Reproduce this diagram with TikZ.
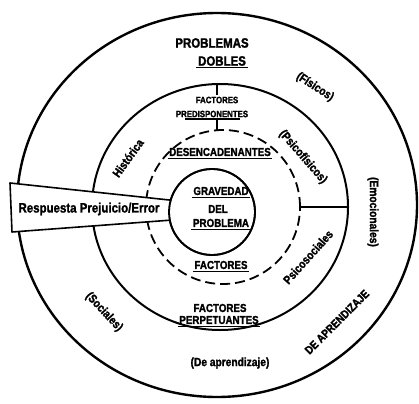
\documentclass[tikz,border=0pt]{standalone}
\usepackage{fontspec}
\setmainfont{Liberation Sans}[FakeStretch=0.85, BoldFont={Liberation Sans Bold}, BoldFeatures={FakeStretch=0.85, FakeBold=1.6}]
\usetikzlibrary{shapes.geometric}

\tikzset{
  fs/.style={font=\bfseries\fontsize{#1}{#1}\selectfont, inner sep=1.5pt},
  ring/.style={draw, inner sep=0pt, outer sep=0pt},
  ul/.style={append after command={
      ([yshift=-0.3pt]\tikzlastnode.south west) edge[draw, line width=1.1pt]
      ([yshift=-0.3pt]\tikzlastnode.south east)}},
  conn/.style={line width=1.6pt},
}

\begin{document}
\begin{tikzpicture}[x=1pt, y=-1pt]
\useasboundingbox[fill=white] (0,0) rectangle (419,403);

% concentric rings
\node[ring, ellipse, line width=2.4pt, minimum width=400, minimum height=384] (outer) at (217,205) {};
\node[ring, ellipse, line width=2pt, minimum width=256, minimum height=246] (midring) at (220,207) {};
\node[ring, circle, line width=1.8pt, dash pattern=on 10pt off 5pt, minimum size=154] (dashring) at (223,207) {};
\node[ring, circle, line width=1.8pt, minimum size=86] (inner) at (212,212) {};

% wedge carrying the response label
\coordinate (bTL) at (10,183);
\coordinate (bBL) at (12,232);
\fill[white] (bTL) -- (inner.164) -- (inner.191) -- (bBL) -- cycle;
\draw[conn, line join=round] (inner.164) -- (bTL) -- (bBL) -- (inner.191);
\node[ring, circle, line width=1.8pt, minimum size=86] at (inner) {};

% divider on the right
\draw[line width=1.8pt] (dashring.east) -- (midring.east);

% labels
\node[fs=13.5] (probl) at (212,43) {PROBLEMAS};
\node[fs=13.5, ul] (dobles) at (222,61) {DOBLES};
\node[fs=9.2] (factA) at (217,100) {FACTORES};
\node[fs=9.2] (predis) at (212,114) {PREDISPONENTES};
\node[fs=11.5, ul] (desenc) at (220,152) {DESENCADENANTES};
\node[fs=11.5, ul] (grav) at (221,191) {GRAVEDAD};
\node[fs=11.5] (del) at (218,209) {DEL};
\node[fs=11.5, ul] (probl2) at (221,223) {PROBLEMA};
\node[fs=11.5, ul] (factB) at (221,265) {FACTORES};
\node[fs=11.5] (factC) at (220,308) {FACTORES};
\node[fs=11.5, ul] (perp) at (219,320) {PERPETUANTES};
\node[fs=13.5] (resp) at (89,209) {Respuesta Prejuicio/Error};

% ticks joining the top labels to the rings
\draw[line width=1.4pt] (midring.north -| factA.north) -- (factA.north);
\draw[line width=1.2pt] ([xshift=-27pt]predis.south) -- ([xshift=28pt]predis.south);
\draw[line width=1.4pt] (dashring.north -| factA.north) -- (factA.north |- predis.south);

% labels set along the rings
\node[fs=12, rotate=-33] (fis) at (315,87) {(Físicos)};
\node[fs=12, rotate=-49] (psf) at (303,157) {(Psicofísicos)};
\node[fs=12, rotate=48] (pss) at (308,257) {Psicosociales};
\node[fs=12, rotate=-90] (emo) at (373,212) {(Emocionales)};
\node[fs=11.5, rotate=45] (deap) at (337,322) {DE APRENDIZAJE};
\node[fs=12] (apr) at (230,363) {(De aprendizaje)};
\node[fs=12, rotate=-47] (soc) at (104,312) {(Sociales)};
\node[fs=12, rotate=54] (his) at (128,158) {Histórica};
\end{tikzpicture}
\end{document}
